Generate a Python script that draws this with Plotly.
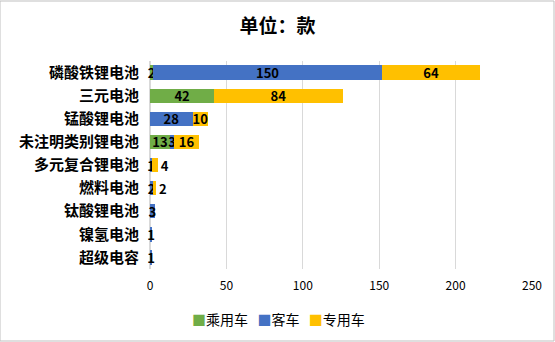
import plotly.graph_objects as go

categories = ["磷酸铁锂电池", "三元电池", "锰酸锂电池", "未注明类别锂电池", "多元复合锂电池",
              "燃料电池", "钛酸锂电池", "镍氢电池", "超级电容"]
passenger = [2, 42, 0, 13, 0, 0, 0, 0, 0]
bus = [150, 0, 28, 3, 1, 2, 3, 1, 1]
special = [64, 84, 10, 16, 4, 2, 0, 0, 0]
x_ticks = [0, 50, 100, 150, 200, 250]

series = [("乘用车", passenger, "#70AD47"), ("客车", bus, "#4472C4"), ("专用车", special, "#FFC000")]

fig = go.Figure()
for i, (name, vals, color) in enumerate(series):
    last = i == len(series) - 1
    fig.add_trace(go.Bar(
        y=categories, x=vals, name=name, orientation="h",
        marker=dict(color=color, line=dict(width=0)),
        text=[f"<b>{v}</b>" if v else "" for v in vals],
        textposition=[("outside" if (last and v < 8) else "inside") for v in vals],
        insidetextanchor="middle", textangle=0,
        textfont=dict(color="#000000", size=13, family="Noto Sans CJK SC"),
        outsidetextfont=dict(color="#000000", size=13, family="Noto Sans CJK SC"),
        cliponaxis=False, showlegend=False,
    ))

legend_html = "   ".join(
    f"<span style='color:{c}'>■</span>{n}" for n, _, c in series
)

W, H = 555, 342
fig.update_layout(
    width=W, height=H, barmode="stack", bargap=0.38,
    paper_bgcolor="white", plot_bgcolor="white",
    margin=dict(l=150, r=23, t=61, b=73),
    font=dict(family="Noto Sans CJK SC", color="#000000"),
    uniformtext=dict(minsize=13, mode="show"),
    title=dict(text="<b>单位：款</b>", x=0.5, xanchor="center", y=1 - 26 / H, yanchor="middle",
               font=dict(size=19, color="#000000")),
    xaxis=dict(range=[0, 250], tickvals=x_ticks, showgrid=True, gridcolor="#D9D9D9", gridwidth=1,
               zeroline=True, zerolinecolor="#D9D9D9", ticks="", showline=False,
               tickfont=dict(size=12, color="#000000"), ticklabelstandoff=8),
    yaxis=dict(autorange="reversed", ticks="", showline=False,
               tickfont=dict(size=15, color="#000000", family="Noto Sans CJK SC"),
               ticklabelstandoff=10, tickprefix="<b>", ticksuffix="</b>"),
    annotations=[dict(text=legend_html, xref="paper", yref="paper",
                      x=(278 - 150) / 382, y=-(319 - 269) / 208, xanchor="center", yanchor="middle",
                      showarrow=False, font=dict(size=14, color="#000000"))],
    shapes=[dict(type="rect", xref="paper", yref="paper", x0=-150 / 382, x1=1 + 22 / 382,
                 y0=-72 / 208, y1=1 + 60 / 208, line=dict(color="#BFBFBF", width=1))],
)

fig.write_html("out.html")
